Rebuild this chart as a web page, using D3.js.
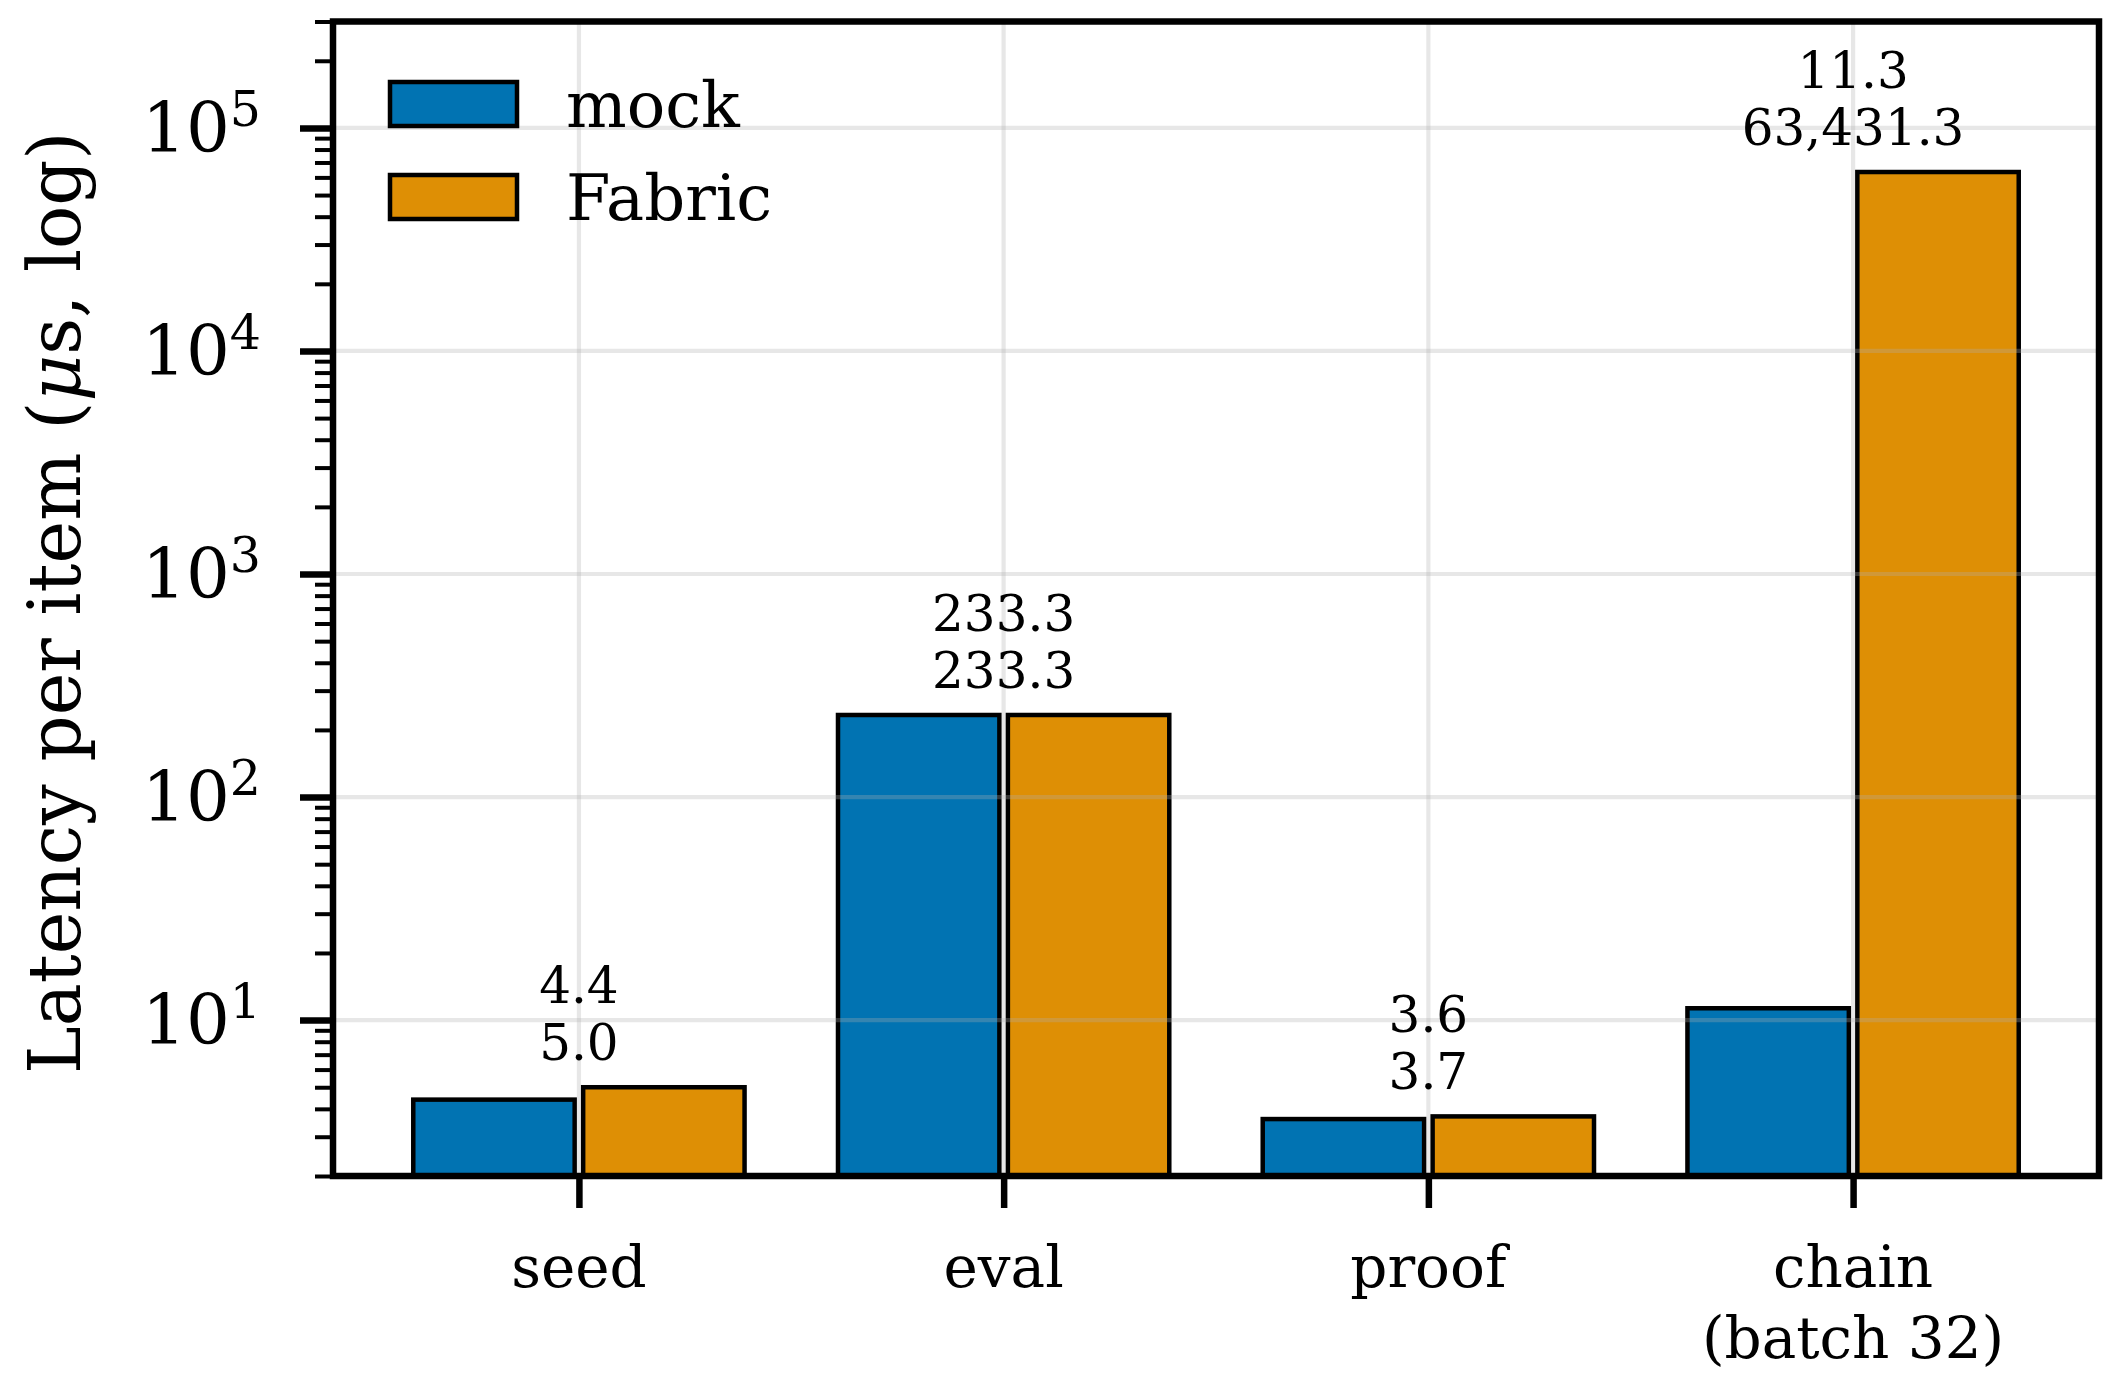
<!DOCTYPE html>
<html lang="en">
<head>
<meta charset="UTF-8">
<title>Latency per item</title>
<style>
  body { margin: 0; background: #fff; }
  svg { display: block; font-family: "DejaVu Serif", serif; }
</style>
</head>
<body>
<svg id="chart" width="2127" height="1381"></svg>

<script src="https://d3js.org/d3.v7.min.js"></script>
<script>
// data
const categories = ["seed", "eval", "proof", "chain\n(batch 32)"];
const seriesNames = ["mock", "Fabric"];
const mockValues = [4.4, 233.3, 3.6, 11.3];
const fabricValues = [5.0, 233.3, 3.7, 63431.3];
const yMajorTicks = [10, 100, 1000, 10000, 100000];
const yLimits = [2, 300000];
const yLabel = ["Latency per item (", "μ", "s, log)"];

const series = [mockValues, fabricValues];
const colors = ["#0173b2", "#de8f05"];

const svg = d3.select("#chart");
const plot = { left: 333, right: 2099, top: 21.5, bottom: 1176 };

// matplotlib-like layout: bars at integer positions, width .38, offsets +-.2
const barW = 0.38, offsets = [-0.2, 0.2];
const x = d3.scaleLinear().domain([-0.579, categories.length - 1 + 0.579]).range([plot.left, plot.right]);
const y = d3.scaleLog().domain(yLimits).range([plot.bottom, plot.top]);
const fmt = d3.format(",.1f");

svg.append("clipPath").attr("id", "clip")
  .append("rect")
  .attr("x", plot.left).attr("y", plot.top)
  .attr("width", plot.right - plot.left).attr("height", plot.bottom - plot.top);

// bars
const bars = svg.append("g").attr("clip-path", "url(#clip)");
series.forEach((vals, s) => {
  bars.selectAll(null)
    .data(vals)
    .join("rect")
    .attr("x", (d, i) => x(i + offsets[s] - barW / 2))
    .attr("width", x(barW) - x(0))
    .attr("y", d => y(d))
    .attr("height", d => y(yLimits[0]) - y(d) + 10)
    .attr("fill", colors[s])
    .attr("stroke", "#000")
    .attr("stroke-width", 4.5);
});

// grid (drawn over the bars, translucent like the original)
const grid = svg.append("g").attr("stroke", "#b0b0b0").attr("stroke-opacity", 0.3).attr("stroke-width", 4.2);
grid.selectAll(null).data(yMajorTicks).join("line")
  .attr("x1", plot.left).attr("x2", plot.right)
  .attr("y1", d => y(d)).attr("y2", d => y(d));
grid.selectAll(null).data(categories).join("line")
  .attr("x1", (d, i) => x(i)).attr("x2", (d, i) => x(i))
  .attr("y1", plot.top).attr("y2", plot.bottom);

// y axis: major + minor ticks
const yMinor = y.ticks().filter(v => !yMajorTicks.includes(v));
const yAxisMajor = svg.append("g")
  .attr("transform", `translate(${plot.left},0)`)
  .call(d3.axisLeft(y).tickValues(yMajorTicks).tickSize(33).tickFormat(""));
const yAxisMinor = svg.append("g")
  .attr("transform", `translate(${plot.left},0)`)
  .call(d3.axisLeft(y).tickValues(yMinor).tickSize(18).tickFormat(""));
yAxisMajor.selectAll("line").attr("stroke", "#000").attr("stroke-width", 6.5);
yAxisMinor.selectAll("line").attr("stroke", "#000").attr("stroke-width", 4);
svg.selectAll(".domain").remove();

// y tick labels 10^k
const yLab = svg.append("g");
yMajorTicks.forEach(v => {
  const t = yLab.append("text")
    .attr("x", 261)
    .attr("y", y(v) + 24)
    .attr("text-anchor", "end")
    .attr("font-size", 69);
  t.append("tspan").text("10");
  t.append("tspan").attr("font-size", 49).attr("dy", -26).text(Math.round(Math.log10(v)));
});

// x axis ticks + labels
const xAxis = svg.append("g")
  .attr("transform", `translate(0,${plot.bottom})`)
  .call(d3.axisBottom(x).tickValues(d3.range(categories.length)).tickSize(32).tickFormat(""));
xAxis.selectAll("line").attr("stroke", "#000").attr("stroke-width", 6.5);
xAxis.select(".domain").remove();

categories.forEach((c, i) => {
  const t = svg.append("text")
    .attr("text-anchor", "middle")
    .attr("font-size", 58);
  c.split("\n").forEach((line, k) => {
    t.append("tspan").attr("x", x(i)).attr("y", 1287 + k * 71).text(line);
  });
});

// value labels above each group
categories.forEach((c, i) => {
  const top = Math.max(mockValues[i], fabricValues[i]);
  const base = y(top) - 27;
  const t = svg.append("text")
    .attr("text-anchor", "middle")
    .attr("font-size", 50);
  t.append("tspan").attr("x", x(i)).attr("y", base - 57).text(fmt(mockValues[i]));
  t.append("tspan").attr("x", x(i)).attr("y", base).text(fmt(fabricValues[i]));
});

// y axis title
const yt = svg.append("text")
  .attr("transform", `translate(80,${(plot.top + plot.bottom) / 2 + 4}) rotate(-90)`)
  .attr("text-anchor", "middle")
  .attr("font-size", 72);
yt.append("tspan").text(yLabel[0]);
yt.append("tspan").attr("font-style", "italic").text(yLabel[1]);
yt.append("tspan").text(yLabel[2]);

// legend (no frame)
const legend = svg.append("g").attr("transform", "translate(390,82)");
seriesNames.forEach((name, s) => {
  const row = legend.append("g").attr("transform", `translate(0,${s * 93})`);
  row.append("rect")
    .attr("width", 127).attr("height", 44)
    .attr("fill", colors[s]).attr("stroke", "#000").attr("stroke-width", 4.5);
  row.append("text")
    .attr("x", 176).attr("y", 45)
    .attr("font-size", 64)
    .text(name);
});

// spines
svg.append("rect")
  .attr("x", plot.left).attr("y", plot.top)
  .attr("width", plot.right - plot.left).attr("height", plot.bottom - plot.top)
  .attr("fill", "none").attr("stroke", "#000").attr("stroke-width", 6.5);
</script>
</body>
</html>
